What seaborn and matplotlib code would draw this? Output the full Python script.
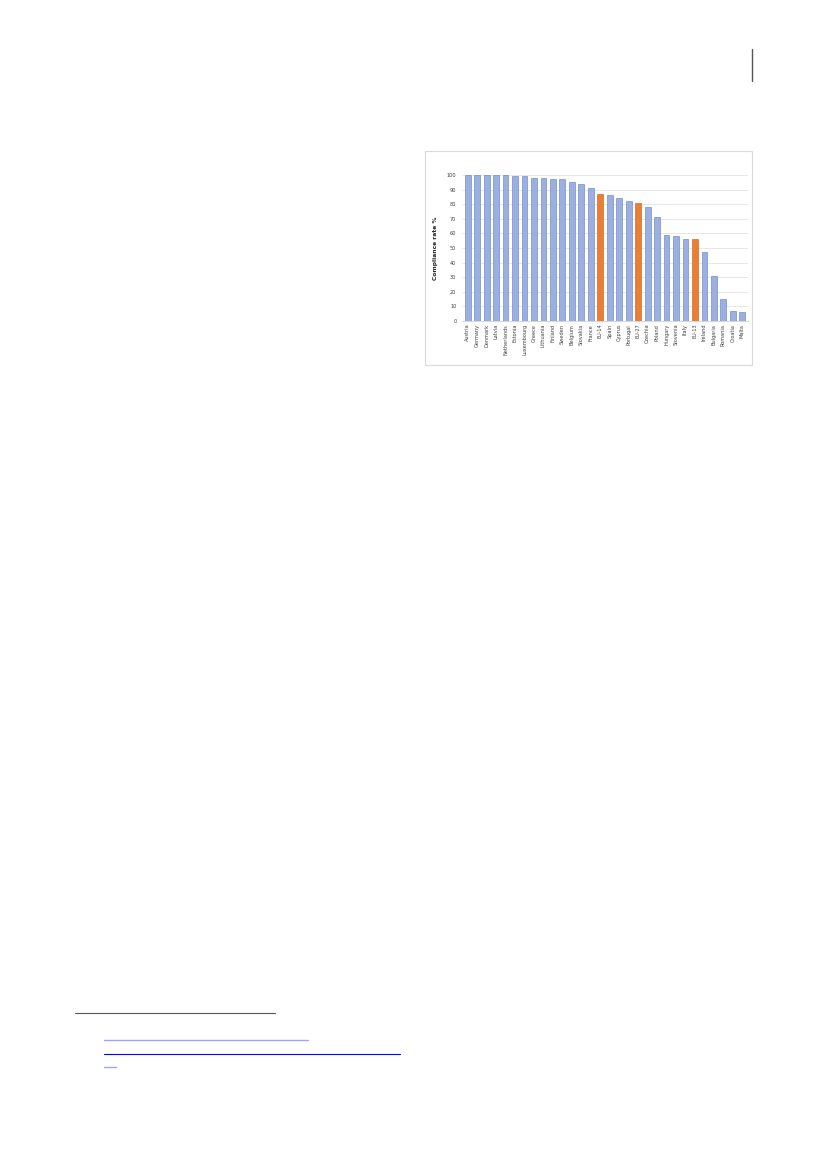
import numpy as np
import pandas as pd
import matplotlib
matplotlib.use('Agg')
import matplotlib.pyplot as plt
import seaborn as sns
from matplotlib.patches import Rectangle
from matplotlib.lines import Line2D

# Data
countries = ['Austria', 'Germany', 'Denmark', 'Latvia', 'Netherlands', 'Estonia',
             'Luxembourg', 'Greece', 'Lithuania', 'Finland', 'Sweden', 'Belgium',
             'Slovakia', 'France', 'EU-14', 'Spain', 'Cyprus', 'Portugal', 'EU-27',
             'Czechia', 'Poland', 'Hungary', 'Slovenia', 'Italy', 'EU-13', 'Ireland',
             'Bulgaria', 'Romania', 'Croatia', 'Malta']
rates = [100, 100, 100, 100, 100, 99, 99, 98, 98, 97, 97, 95, 94, 91, 87, 86, 84,
         82, 81, 78, 71, 59, 58, 56, 56, 47, 31, 15, 7, 6]
yticks = list(range(0, 101, 10))

df = pd.DataFrame({'country': countries, 'rate': rates})
df['group'] = np.where(df['country'].str.startswith('EU-'), 'EU', 'country')

sns.set_style('white')
plt.rcParams['font.family'] = ['DejaVu Sans']

W, H = 827, 1169
fig = plt.figure(figsize=(W / 100, H / 100), dpi=100)

def fx(x):
    return x / W

def fy(y):
    return 1 - y / H

# chart frame
fig.patches.append(Rectangle((fx(425), fy(365)), fx(752) - fx(425), fy(151) - fy(365),
                             transform=fig.transFigure, fill=False,
                             edgecolor='#d9d9d9', linewidth=0.8))

ax = fig.add_axes([fx(462), fy(321), fx(748) - fx(462), fy(175) - fy(321)])
palette = {'country': '#9cb0e0', 'EU': '#ed7d31'}
sns.barplot(data=df, x='country', y='rate', hue='group', palette=palette,
            dodge=False, width=0.62, legend=False, ax=ax,
            edgecolor='#5a7ccc', linewidth=0.4, saturation=1)
# darker outline for the EU averages (patch order follows hue, so match by x)
eu_pos = set(df.index[df['group'] == 'EU'])
for bar in ax.patches:
    i = int(round(bar.get_x() + bar.get_width() / 2))
    if i in eu_pos:
        bar.set_edgecolor('#c55a11')

ax.set_ylim(0, 100)
ax.set_xlim(-0.6, len(countries) - 0.4)
ax.set_yticks(yticks)
ax.yaxis.grid(True, color='#e3e3e3', linewidth=0.6)
ax.set_axisbelow(True)
ax.tick_params(axis='y', labelsize=3.6, length=0, pad=4, labelcolor='#404040')
ax.tick_params(axis='x', labelsize=3.6, length=0, pad=2, labelrotation=90,
               labelcolor='#404040')
ax.set_xlabel('')
ax.set_ylabel('Compliance rate %', fontsize=4.3, fontweight='bold', labelpad=6,
              color='#262626')
for s in ['top', 'right', 'left']:
    ax.spines[s].set_visible(False)
ax.spines['bottom'].set_color('#d0d0d0')
ax.spines['bottom'].set_linewidth(0.6)

# page decorations
fig.add_artist(Line2D([fx(752), fx(752)], [fy(49), fy(81)], color='#555555', linewidth=1.0))
fig.add_artist(Line2D([fx(75), fx(275)], [fy(1013), fy(1013)], color='#555555', linewidth=0.8))
fig.add_artist(Line2D([fx(104), fx(308)], [fy(1040), fy(1040)], color='#a0a0ff', linewidth=1.0))
fig.add_artist(Line2D([fx(104), fx(400)], [fy(1054), fy(1054)], color='#0000ff', linewidth=0.8))
fig.add_artist(Line2D([fx(104), fx(116)], [fy(1067), fy(1067)], color='#a0a0ff', linewidth=1.0))

fig.savefig('out.png', dpi=100)
